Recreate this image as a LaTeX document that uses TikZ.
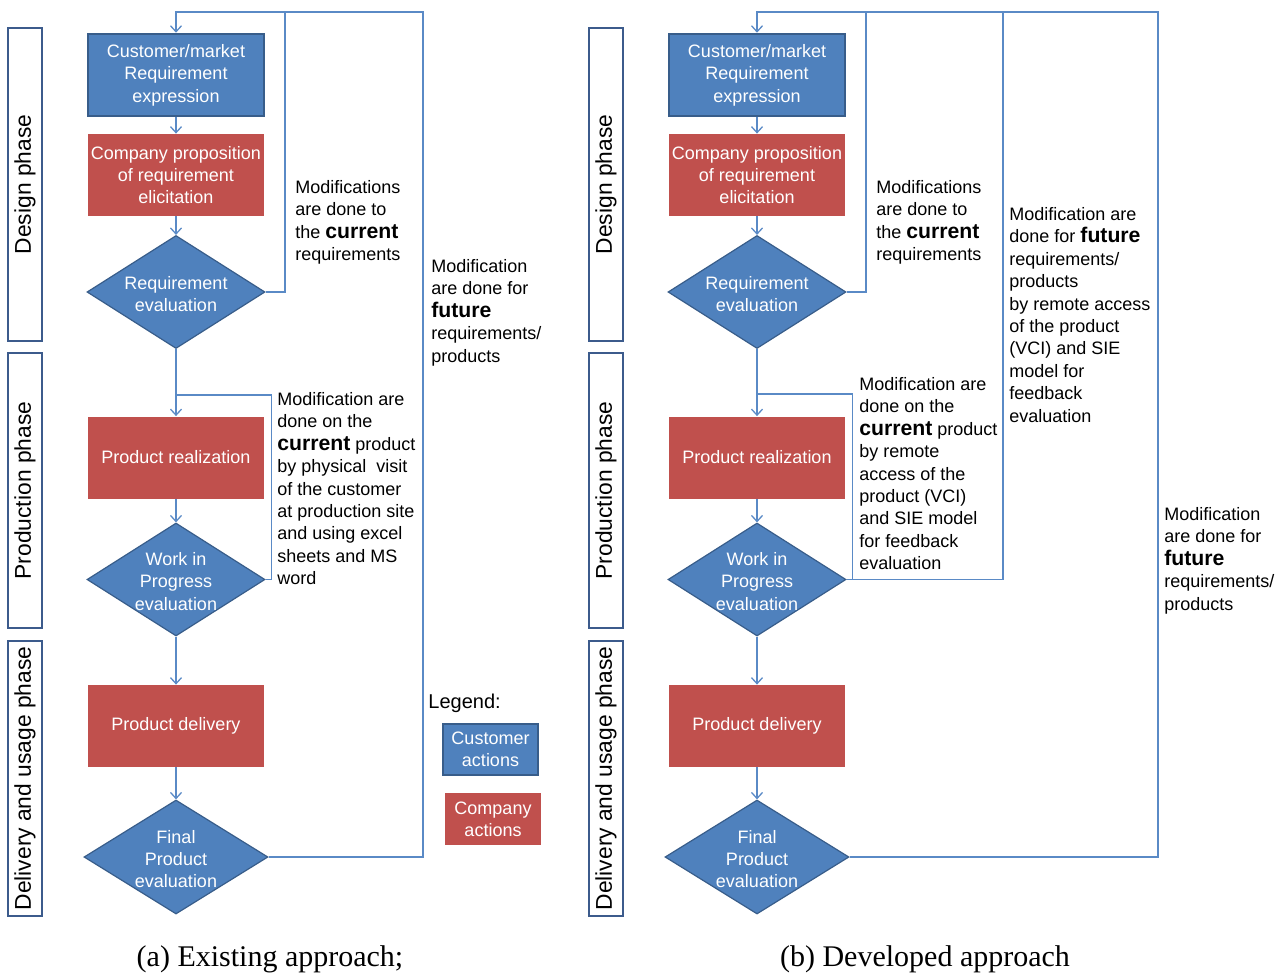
\documentclass[tikz,border=0pt]{standalone}
\usepackage{fontspec}
\setmainfont{Liberation Sans}
\newfontfamily\capfont{Liberation Serif}
\usetikzlibrary{arrows.meta,shapes.geometric}
\definecolor{CustBlue}{HTML}{4F81BD}
\definecolor{CustEdge}{HTML}{385D8A}
\definecolor{CompRed}{HTML}{C0504D}
\definecolor{LinkBlue}{HTML}{5A8AC6}
\definecolor{PhaseEdge}{HTML}{3C5B8C}
\newcommand{\keyword}[1]{{\fontsize{10.6}{11.2}\selectfont\bfseries #1}}

\begin{document}
\begin{tikzpicture}[
  x=0.5pt,y=-0.5pt,
  every node/.style={font=\fontsize{9}{11.2}\selectfont},
  custbox/.style={draw=CustEdge,line width=1.3pt,fill=CustBlue,text=white,align=center,inner sep=0pt,minimum width=88pt,minimum height=41pt},
  compbox/.style={fill=CompRed,text=white,align=center,inner sep=0pt,minimum width=88pt,minimum height=41pt},
  evaldiam/.style={diamond,draw=CustEdge,line width=0.6pt,fill=CustBlue,inner sep=0pt,minimum width=89pt,minimum height=56.5pt},
  diamtext/.style={text=white,align=center,yshift=-1pt},
  phasebox/.style={draw=PhaseEdge,line width=1pt,fill=white,rotate=90,minimum height=17pt,inner sep=0pt,font=\fontsize{11.4}{13}\selectfont},
  note/.style={anchor=north west,align=left,inner sep=0pt},
  link/.style={draw=LinkBlue,line width=0.65pt},
  arr/.style={link,-{Straight Barb[length=3pt,width=5.5pt]}},
  capt/.style={font=\capfont\fontsize{15}{18}\selectfont}
]
\useasboundingbox (0,0) rectangle (1288,973);

% (a) existing approach
\node[phasebox,minimum width=156.5pt] (a-design) at (25,184.5) {Design phase};
\node[phasebox,minimum width=137.5pt] (a-production) at (25,490.5) {Production phase};
\node[phasebox,minimum width=137.5pt] (a-usage) at (25,778.5) {Delivery and usage phase};

\node[custbox] (a-cust) at (176,75) {Customer/market\\Requirement\\expression};
\node[compbox] (a-comp) at (176,175) {Company proposition\\of requirement\\elicitation};
\node[evaldiam,label={[diamtext]center:Requirement\\evaluation}] (a-req) at (176,292) {};
\node[compbox] (a-real) at (176,457.5) {Product realization};
\node[evaldiam,label={[diamtext]center:Work in\\Progress\\evaluation}] (a-wip) at (176,579.5) {};
\node[compbox] (a-deliv) at (176,726) {Product delivery};
\node[evaldiam,minimum width=92pt,minimum height=57pt,label={[diamtext]center:Final\\Product\\evaluation}] (a-final) at (176,857) {};

\node[note] (a-modcur) at (295,180) {Modifications\\are done to\\the \keyword{current}\\requirements};
\node[note] (a-modfut) at (431,259) {Modification\\are done for\\\keyword{future}\\requirements/\\products};
\node[note] (a-modprod) at (277,392) {Modification are\\done on the\\\keyword{current} product\\by physical\ \ visit\\of the customer\\at production site\\and using excel\\sheets and MS\\word};

\node[anchor=west,inner sep=0pt,font=\fontsize{10}{12}\selectfont] (legend) at (428,703) {Legend:};
\node[custbox,minimum width=47.5pt,minimum height=25.5pt] (leg-cust) at (490.5,749.5) {Customer\\actions};
\node[compbox,minimum width=48pt,minimum height=26pt] (leg-comp) at (493,819) {Company\\actions};

\coordinate (a-curr) at (285,12);
\coordinate (a-futr) at (423,12);
\coordinate (a-join) at (176,395);

\draw[arr] (a-cust) -- (a-comp);
\draw[arr] (a-comp) -- (a-req);
\draw[arr] (a-req) -- (a-real);
\draw[arr] (a-real) -- (a-wip);
\draw[arr] (a-wip) -- (a-deliv);
\draw[arr] (a-deliv) -- (a-final);
\draw[link] (a-req.east) -| (a-curr);
\draw[link] (a-wip.east) -- ++(6,0) |- (a-join);
\draw[arr] (a-final.east) -| (a-futr) -| (a-cust.north);

% (b) developed approach
\node[phasebox,minimum width=156.5pt] (b-design) at (606,184.5) {Design phase};
\node[phasebox,minimum width=137.5pt] (b-production) at (606,490.5) {Production phase};
\node[phasebox,minimum width=137.5pt] (b-usage) at (606,778.5) {Delivery and usage phase};

\node[custbox] (b-cust) at (757,75) {Customer/market\\Requirement\\expression};
\node[compbox] (b-comp) at (757,175) {Company proposition\\of requirement\\elicitation};
\node[evaldiam,label={[diamtext]center:Requirement\\evaluation}] (b-req) at (757,292) {};
\node[compbox] (b-real) at (757,457.5) {Product realization};
\node[evaldiam,label={[diamtext]center:Work in\\Progress\\evaluation}] (b-wip) at (757,579.5) {};
\node[compbox] (b-deliv) at (757,726) {Product delivery};
\node[evaldiam,minimum width=92pt,minimum height=57pt,label={[diamtext]center:Final\\Product\\evaluation}] (b-final) at (757,857) {};

\node[note] (b-modcur) at (876,180) {Modifications\\are done to\\the \keyword{current}\\requirements};
\node[note] (b-modfut) at (1009,207) {Modification are\\done for \keyword{future}\\requirements/\\products\\by remote access\\of the product\\(VCI) and SIE\\model for\\feedback\\evaluation};
\node[note] (b-modprod) at (859,377) {Modification are\\done on the\\\keyword{current} product\\by remote\\access of the\\product (VCI)\\and SIE model\\for feedback\\evaluation};
\node[note] (b-modlate) at (1164,507) {Modification\\are done for\\\keyword{future}\\requirements/\\products};

\coordinate (b-curr) at (866,12);
\coordinate (b-wipfut) at (1003,12);
\coordinate (b-futr) at (1158,12);
\coordinate (b-join) at (757,394);

\draw[arr] (b-cust) -- (b-comp);
\draw[arr] (b-comp) -- (b-req);
\draw[arr] (b-req) -- (b-real);
\draw[arr] (b-real) -- (b-wip);
\draw[arr] (b-wip) -- (b-deliv);
\draw[arr] (b-deliv) -- (b-final);
\draw[link] (b-req.east) -| (b-curr);
\draw[link] (b-wip.east) -| (b-wipfut);
\draw[link] (b-wip.east) ++(6,0) |- (b-join);
\draw[arr] (b-final.east) -| (b-futr) -| (b-cust.north);

% captions
\node[capt] (a-caption) at (270,959) {(a) Existing approach;};
\node[capt] (b-caption) at (925,959) {(b) Developed approach};
\end{tikzpicture}
\end{document}
